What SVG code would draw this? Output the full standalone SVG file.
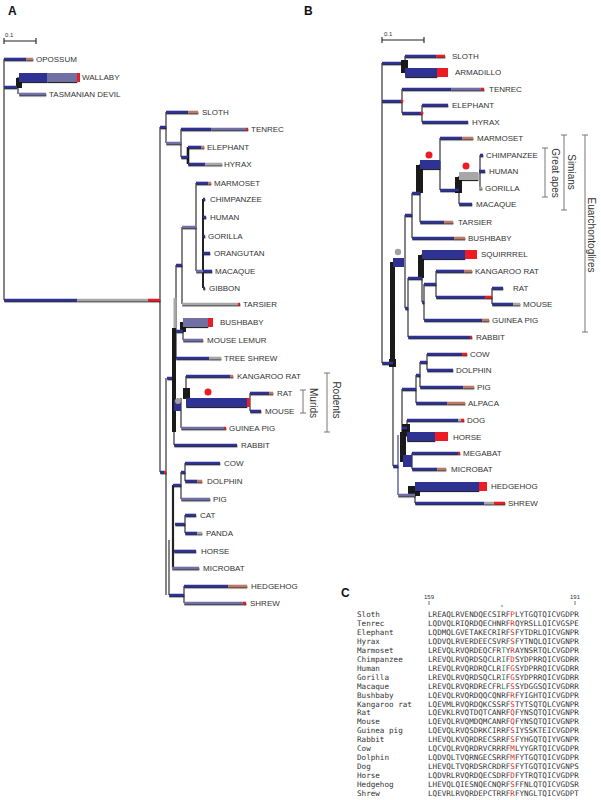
<svg xmlns="http://www.w3.org/2000/svg" width="601" height="800" viewBox="0 0 601 800">
<defs>
<filter id="sh" filterUnits="userSpaceOnUse" x="0" y="0" width="601" height="800"><feDropShadow dx="0.3" dy="1.1" stdDeviation="0.2" flood-color="#111" flood-opacity="0.9"/></filter>
<style>
.h{fill:none;stroke-width:2.6;filter:url(#sh)}
.b{stroke:#2e3192}.s{stroke:#6f70a4}.g{stroke:#a7a7a7}.w{stroke:#b97a6a}.r{stroke:#ec1c24}
.fb{fill:#2e3192}.fs{fill:#6f70a4}.fg{fill:#a7a7a7}.fr{fill:#ec1c24}.fk{fill:#1a1a1a}
.bar{filter:url(#sh)}
.v{fill:none;stroke:#222;stroke-width:1.1}
.vk{fill:none;stroke:#1a1a1a;stroke-width:2.6}
text{font-family:"Liberation Sans",Arial,sans-serif;fill:#333}
.l{font-size:8px}
.p{font-size:12px;font-weight:bold;fill:#111}
.sc{font-size:6px}
.br{fill:none;stroke:#777;stroke-width:1}
.bt{font-size:10px}
.m{font-family:"DejaVu Sans Mono","Liberation Mono",monospace;font-size:7.6px;fill:#333}
.rd{fill:#e8232a}.gn{fill:#1d8a3e}
</style>
</defs>

<!-- Panel letters -->
<text class="p" x="8" y="15">A</text>
<text class="p" x="304" y="15">B</text>
<text class="p" x="341" y="597">C</text>

<!-- Scale bars -->
<g id="scaleA"><path class="v" d="M4 41H36M4 38V44M36 38V44"/><text class="sc" x="5" y="37">0.1</text></g>
<g id="scaleB"><path class="v" d="M382 40H424M382 37V43M424 37V43"/><text class="sc" x="384" y="36">0.1</text></g>

<!-- ===== Panel A connectors ===== -->
<g id="connectorsA">
<path class="v" d="M4 59V300M18 77V94M160 127V472M166 112V143M181 129V157M176 265V358M182 227V304M196 183V271M183 322V340M186 376V398M250 393V411M181 398V428M174 405V445M166 378V595M185 463V481M181 472V499M185 515V533M184 586V603M169 540V595"/>
<path class="vk" d="M188 147V164"/>
<path class="v" style="stroke-width:2" d="M203 199V288"/>
<path class="v" style="stroke-width:2.2" d="M173 485V568"/>
<rect class="fk" x="16" y="78" width="6" height="10"/>
<rect class="fg" x="173.5" y="298" width="3" height="30"/>
<rect class="fk" x="172" y="328" width="4" height="104"/>
<rect class="fk" x="180" y="322" width="6" height="10"/>
<rect class="fk" x="183" y="388" width="7" height="11"/>
<rect class="fb" x="174" y="400" width="7" height="11"/>
<circle cx="178" cy="401" r="3" fill="#a0a0a0"/>
<circle cx="208" cy="392" r="3.5" fill="#ec1c24"/>
<path class="h b" d="M4 87H17M4 300H77M160 127H166M181 157H188M176 265H182M176 331H183M167 378H172M160 472H164M181 472H185M173 485H181M175 524H185M169 595H184"/>
<path class="h s" d="M166 143H181M182 227H196"/>
<path class="h g" d="M77 300H148"/>
<path class="h r" d="M148 300H160M164 472H166"/>
</g>

<!-- ===== Panel A leaves ===== -->
<g id="a-opossum"><path class="h b" d="M4 59H26"/><path class="h w" d="M26 59H33"/><text class="l" x="36" y="62">OPOSSUM</text></g>
<g id="a-wallaby"><rect class="fb bar" x="19" y="73" width="28" height="9"/><rect class="fs bar" x="47" y="73" width="30" height="9"/><rect class="fr" x="77" y="73" width="3" height="9"/><text class="l" x="82" y="80">WALLABY</text></g>
<g id="a-tasmanian-devil"><path class="h s" d="M19 94H46"/><text class="l" x="49" y="97">TASMANIAN DEVIL</text></g>
<g id="a-sloth"><path class="h b" d="M166 112H188"/><path class="h w" d="M188 112H198"/><text class="l" x="202" y="115">SLOTH</text></g>
<g id="a-tenrec"><path class="h b" d="M181 129H211"/><path class="h s" d="M211 129H246"/><path class="h r" d="M246 129H248"/><text class="l" x="251" y="132">TENREC</text></g>
<g id="a-elephant"><path class="h b" d="M188 147H201"/><path class="h w" d="M201 147H204"/><text class="l" x="207" y="150">ELEPHANT</text></g>
<g id="a-hyrax"><path class="h b" d="M188 164H205"/><path class="h g" d="M205 164H222"/><text class="l" x="224" y="167">HYRAX</text></g>
<g id="a-marmoset"><path class="h b" d="M196 183H208"/><path class="h w" d="M208 183H211"/><text class="l" x="214" y="186">MARMOSET</text></g>
<g id="a-chimpanzee"><path class="h b" d="M203 199H205"/><text class="l" x="210" y="202">CHIMPANZEE</text></g>
<g id="a-human"><path class="h b" d="M203 217H206"/><text class="l" x="210" y="220">HUMAN</text></g>
<g id="a-gorilla"><path class="h b" d="M203 236H205"/><text class="l" x="208" y="239">GORILLA</text></g>
<g id="a-orangutan"><path class="h b" d="M203 253H210"/><text class="l" x="214" y="256">ORANGUTAN</text></g>
<g id="a-macaque"><path class="h s" d="M196 271H203"/><path class="h b" d="M203 271H212"/><text class="l" x="215" y="274">MACAQUE</text></g>
<g id="a-gibbon"><path class="h b" d="M203 288H205"/><text class="l" x="209" y="291">GIBBON</text></g>
<g id="a-tarsier"><path class="h g" d="M182 304H238"/><path class="h r" d="M238 304H240"/><text class="l" x="243" y="307">TARSIER</text></g>
<g id="a-bushbaby"><rect class="fs bar" x="183" y="318" width="25" height="9"/><rect class="fr" x="208" y="318" width="5" height="9"/><text class="l" x="220" y="325">BUSHBABY</text></g>
<g id="a-mouse-lemur"><path class="h s" d="M183 340H203"/><text class="l" x="207" y="343">MOUSE LEMUR</text></g>
<g id="a-tree-shrew"><path class="h b" d="M176 358H209"/><path class="h g" d="M209 358H221"/><text class="l" x="224" y="361">TREE SHREW</text></g>
<g id="a-kangaroo-rat"><path class="h b" d="M186 376H230"/><path class="h w" d="M230 376H233"/><text class="l" x="237" y="379">KANGAROO RAT</text></g>
<g id="a-murids"><rect class="fb bar" x="186" y="398" width="61" height="9"/><rect class="fr" x="247" y="398" width="3" height="9"/></g>
<g id="a-rat"><path class="h b" d="M250 393H269"/><path class="h w" d="M269 393H273"/><text class="l" x="277" y="396">RAT</text></g>
<g id="a-mouse"><path class="h b" d="M250 411H261"/><text class="l" x="265" y="414">MOUSE</text></g>
<g id="a-guinea-pig"><path class="h s" d="M181 428H224"/><path class="h r" d="M224 428H226"/><text class="l" x="229" y="431">GUINEA PIG</text></g>
<g id="a-rabbit"><path class="h b" d="M174 445H237"/><text class="l" x="241" y="448">RABBIT</text></g>
<g id="a-cow"><path class="h b" d="M185 463H220"/><text class="l" x="224" y="466">COW</text></g>
<g id="a-dolphin"><path class="h b" d="M185 481H197"/><path class="h w" d="M197 481H202"/><text class="l" x="207" y="484">DOLPHIN</text></g>
<g id="a-pig"><path class="h s" d="M181 499H210"/><text class="l" x="213" y="502">PIG</text></g>
<g id="a-cat"><path class="h b" d="M185 515H196"/><text class="l" x="200" y="518">CAT</text></g>
<g id="a-panda"><path class="h b" d="M185 533H197"/><path class="h g" d="M197 533H202"/><text class="l" x="206" y="536">PANDA</text></g>
<g id="a-horse"><path class="h b" d="M174 551H196"/><text class="l" x="201" y="554">HORSE</text></g>
<g id="a-microbat"><path class="h s" d="M172 568H199"/><text class="l" x="203" y="571">MICROBAT</text></g>
<g id="a-hedgehog"><path class="h b" d="M184 586H228"/><path class="h w" d="M228 586H247"/><text class="l" x="251" y="589">HEDGEHOG</text></g>
<g id="a-shrew"><path class="h s" d="M184 603H243"/><path class="h r" d="M243 603H246"/><text class="l" x="250" y="606">SHREW</text></g>

<g id="a-brackets">
<path class="br" d="M303 390V413M300 390H306M300 413H306M327 373V432M324 373H330M324 432H330"/>
<text class="bt" transform="translate(310 403) rotate(90)" text-anchor="middle">Murids</text>
<text class="bt" transform="translate(333 400) rotate(90)" text-anchor="middle">Rodents</text>
</g>

<!-- ===== Panel B connectors ===== -->
<g id="connectorsB">
<path class="v" d="M382 63V363M405 56V72M402 89V113M422 105V122M393 262V466M405 215V308M412 193V238M420 164V222M440 138V190M459 176V204M480 155V188M408 278V337M422 254V302M424 284V320M436 271V297M492 288V304M402 389V462M416 375V403M420 362V387M427 354V370M407 420V437M412 453V469M415 486V503"/>
<path class="v" style="stroke:#6f70a4;stroke-width:1.6" d="M398 435V495"/>
<rect class="fk" x="401" y="60" width="7" height="13"/>
<rect class="fk" x="389" y="359" width="7" height="8"/>
<rect class="fk" x="390" y="262" width="5" height="101"/>
<rect class="fb" x="393" y="258" width="11" height="9"/>
<circle cx="398" cy="252" r="3.2" fill="#a0a0a0"/>
<rect class="fk" x="416" y="165" width="7" height="28"/>
<rect class="fb bar" x="420" y="160" width="20" height="9"/>
<circle cx="429" cy="155" r="3.5" fill="#ec1c24"/>
<rect class="fk" x="455" y="177" width="7" height="16"/>
<rect class="fg bar" x="459" y="172" width="19" height="8"/>
<circle cx="466" cy="166" r="3.5" fill="#ec1c24"/>
<rect class="fk" x="418" y="255" width="6" height="23"/>
<rect class="fk" x="400" y="432" width="6" height="30"/>
<rect class="fk" x="402" y="424" width="8" height="12"/>
<rect class="fb" x="403" y="455" width="9" height="12"/>
<rect class="fk" x="408" y="486" width="12" height="10"/>
<path class="h b" d="M382 63H401M382 101H402M402 113H422M382 363H393M405 215H412M412 193H420M440 190H459M405 308H408M408 278H422M422 302H424M424 284H436M436 297H485M393 466H398M402 389H416M416 375H420M420 362H427M402 428H407"/>
<path class="h s" d="M398 495H415"/>
<path class="h r" d="M485 297H492"/>
<circle cx="402" cy="101" r="1.5" fill="#ec1c24"/>
<circle cx="422" cy="113" r="1.5" fill="#ec1c24"/>
</g>

<!-- ===== Panel B leaves ===== -->
<g id="b-sloth"><path class="h b" d="M405 56H436"/><path class="h r" d="M436 56H445"/><text class="l" x="452" y="59">SLOTH</text></g>
<g id="b-armadillo"><rect class="fb bar" x="405" y="68" width="32" height="9"/><rect class="fr" x="437" y="68" width="11" height="9"/><text class="l" x="455" y="75">ARMADILLO</text></g>
<g id="b-tenrec"><path class="h b" d="M402 89H451"/><path class="h s" d="M451 89H481"/><path class="h r" d="M481 89H484"/><text class="l" x="489" y="92">TENREC</text></g>
<g id="b-elephant"><path class="h b" d="M422 105H448"/><text class="l" x="452" y="108">ELEPHANT</text></g>
<g id="b-hyrax"><path class="h b" d="M422 122H468"/><text class="l" x="472" y="125">HYRAX</text></g>
<g id="b-marmoset"><path class="h b" d="M440 138H462"/><path class="h w" d="M462 138H473"/><text class="l" x="477" y="141">MARMOSET</text></g>
<g id="b-chimpanzee"><path class="h b" d="M480 155H483"/><text class="l" x="486" y="158">CHIMPANZEE</text></g>
<g id="b-human"><path class="h b" d="M479 171H485"/><text class="l" x="489" y="174">HUMAN</text></g>
<g id="b-gorilla"><path class="h g" d="M479 188H482"/><text class="l" x="485" y="191">GORILLA</text></g>
<g id="b-macaque"><path class="h b" d="M459 204H472"/><text class="l" x="476" y="207">MACAQUE</text></g>
<g id="b-tarsier"><path class="h b" d="M420 222H444"/><path class="h w" d="M444 222H453"/><text class="l" x="458" y="225">TARSIER</text></g>
<g id="b-bushbaby"><path class="h b" d="M412 238H454"/><path class="h w" d="M454 238H465"/><text class="l" x="468" y="241">BUSHBABY</text></g>
<g id="b-squirrel"><rect class="fb bar" x="422" y="250" width="43" height="9"/><rect class="fr" x="465" y="250" width="12" height="9"/><text class="l" x="481" y="257">SQUIRRREL</text></g>
<g id="b-kangaroo-rat"><path class="h b" d="M436 271H464"/><path class="h w" d="M464 271H472"/><text class="l" x="475" y="274">KANGAROO RAT</text></g>
<g id="b-rat"><path class="h b" d="M492 288H503"/><text class="l" x="513" y="291">RAT</text></g>
<g id="b-mouse"><path class="h b" d="M492 304H513"/><path class="h g" d="M513 304H520"/><text class="l" x="523" y="307">MOUSE</text></g>
<g id="b-guinea-pig"><path class="h b" d="M424 320H482"/><path class="h w" d="M482 320H489"/><text class="l" x="492" y="323">GUINEA PIG</text></g>
<g id="b-rabbit"><path class="h b" d="M408 337H470"/><path class="h r" d="M470 337H472"/><text class="l" x="476" y="340">RABBIT</text></g>
<g id="b-cow"><path class="h b" d="M427 354H462"/><path class="h r" d="M462 354H467"/><text class="l" x="470" y="357">COW</text></g>
<g id="b-dolphin"><path class="h b" d="M427 370H453"/><text class="l" x="456" y="373">DOLPHIN</text></g>
<g id="b-pig"><path class="h b" d="M420 387H463"/><path class="h w" d="M463 387H474"/><text class="l" x="477" y="390">PIG</text></g>
<g id="b-alpaca"><path class="h b" d="M416 403H447"/><path class="h w" d="M447 403H465"/><text class="l" x="468" y="406">ALPACA</text></g>
<g id="b-dog"><path class="h b" d="M407 420H458"/><path class="h g" d="M458 420H461"/><path class="h r" d="M461 420H464"/><text class="l" x="467" y="423">DOG</text></g>
<g id="b-horse"><rect class="fb bar" x="407" y="432" width="28" height="9"/><rect class="fr" x="435" y="432" width="13" height="9"/><text class="l" x="453" y="440">HORSE</text></g>
<g id="b-megabat"><path class="h b" d="M412 453H458"/><path class="h r" d="M458 453H460"/><text class="l" x="463" y="456">MEGABAT</text></g>
<g id="b-microbat"><path class="h b" d="M412 469H437"/><path class="h w" d="M437 469H446"/><text class="l" x="451" y="472">MICROBAT</text></g>
<g id="b-hedgehog"><rect class="fb bar" x="415" y="482" width="64" height="9"/><rect class="fr" x="479" y="482" width="8" height="9"/><text class="l" x="491" y="489">HEDGEHOG</text></g>
<g id="b-shrew"><path class="h b" d="M415 503H484"/><path class="h g" d="M484 503H494"/><path class="h r" d="M494 503H505"/><text class="l" x="508" y="506">SHREW</text></g>

<g id="b-brackets">
<path class="br" d="M545 148V197M542 148H548M542 197H548M564 135V210M561 135H567M561 210H567M585 135V332M582 135H588M582 332H588"/>
<text class="bt" transform="translate(552 173) rotate(90)" text-anchor="middle">Great apes</text>
<text class="bt" transform="translate(568 172) rotate(90)" text-anchor="middle">Simians</text>
<text class="bt" transform="translate(588 235) rotate(90)" text-anchor="middle">Euarchontoglires</text>
</g>

<!-- ===== Panel C ===== -->
<g id="c-alignment">
<text class="sc" x="429" y="599" text-anchor="middle">159</text>
<text class="sc" x="575" y="599" text-anchor="middle">191</text>
<path class="br" d="M429 601V605M575 601V605"/>
<text x="502" y="609" text-anchor="middle" style="font-size:6px;fill:#1d8a3e">*</text>
<text class="m" x="357" y="617">Sloth</text><text class="m" x="428" y="617">LREAQLRVENDQECSIRF<tspan class="rd">P</tspan>LYTGQTQICVGDPR</text>
<text class="m" x="357" y="625.95">Tenrec</text><text class="m" x="428" y="625.95">LQDVQLRIQRDQECHNRF<tspan class="rd">R</tspan>QYRSLLQICVGSPE</text>
<text class="m" x="357" y="634.9">Elephant</text><text class="m" x="428" y="634.9">LQDMQLGVETAKECRIRF<tspan class="rd">S</tspan>FYTDRLQICVGNPR</text>
<text class="m" x="357" y="643.85">Hyrax</text><text class="m" x="428" y="643.85">LQDVQLRVERDEECSVRF<tspan class="rd">S</tspan>FYTNQLQICVGNPR</text>
<text class="m" x="357" y="652.8">Marmoset</text><text class="m" x="428" y="652.8">LREVQLRVQRDEQCFR<tspan class="gn">T</tspan>Y<tspan class="rd">R</tspan>AYNSRTQLCVGDPR</text>
<text class="m" x="357" y="661.75">Chimpanzee</text><text class="m" x="428" y="661.75">LREVQLRVQRDSQCLR<tspan class="gn">I</tspan>F<tspan class="rd">D</tspan>SYDPRRQICVGDRR</text>
<text class="m" x="357" y="670.7">Human</text><text class="m" x="428" y="670.7">LREVQLRVQRDRQCLR<tspan class="gn">I</tspan>F<tspan class="rd">G</tspan>SYDPRRQICVGDRR</text>
<text class="m" x="357" y="679.65">Gorilla</text><text class="m" x="428" y="679.65">LREVQLRVQRDSQCLR<tspan class="gn">I</tspan>F<tspan class="rd">G</tspan>SYDPRRQICVGDRR</text>
<text class="m" x="357" y="688.6">Macaque</text><text class="m" x="428" y="688.6">LREVQLRVQRDRECFR<tspan class="gn">L</tspan>F<tspan class="rd">S</tspan>SYDGGSQICVGDRR</text>
<text class="m" x="357" y="697.55">Bushbaby</text><text class="m" x="428" y="697.55">LQEVQLRVQRDQQCQNRF<tspan class="rd">R</tspan>FYIGHTQICVGDPR</text>
<text class="m" x="357" y="706.5">Kangaroo rat</text><text class="m" x="428" y="706.5">LQEVMLRVQRDQKCSSRF<tspan class="rd">S</tspan>TYTSQTQLCVGNPR</text>
<text class="m" x="357" y="715.45">Rat</text><text class="m" x="428" y="715.45">LQEVKLRVQTDQTCANRF<tspan class="rd">Q</tspan>FYNSQTQICVGNPR</text>
<text class="m" x="357" y="724.4">Mouse</text><text class="m" x="428" y="724.4">LQEVQLRVQMDQMCANRF<tspan class="rd">Q</tspan>FYNSQTQICVGNPR</text>
<text class="m" x="357" y="733.35">Guinea pig</text><text class="m" x="428" y="733.35">LQEVQLRVQSDRKCIRRF<tspan class="rd">S</tspan>IYSSKTEICVGDPR</text>
<text class="m" x="357" y="742.3">Rabbit</text><text class="m" x="428" y="742.3">LHEVQLKVQRDRECSRRF<tspan class="rd">S</tspan>FYHGQTQIYVGNPR</text>
<text class="m" x="357" y="751.25">Cow</text><text class="m" x="428" y="751.25">LQCVQLRVQRDRVCRRRF<tspan class="rd">M</tspan>LYYGRTQICVGDPR</text>
<text class="m" x="357" y="760.2">Dolphin</text><text class="m" x="428" y="760.2">LQDVQLTVQRNGECSRRF<tspan class="rd">M</tspan>FYTGQTQICVGDPR</text>
<text class="m" x="357" y="769.15">Dog</text><text class="m" x="428" y="769.15">LHEVQLTVQRDSRCRDRF<tspan class="rd">S</tspan>FYTGQTQICVGNPS</text>
<text class="m" x="357" y="778.1">Horse</text><text class="m" x="428" y="778.1">LQDVRLRVQRDQECSDRF<tspan class="rd">D</tspan>FYTRQTQICVGDPR</text>
<text class="m" x="357" y="787.05">Hedgehog</text><text class="m" x="428" y="787.05">LHEVQLQIESNQECNQRF<tspan class="rd">S</tspan>FFNLQTQICVGDSR</text>
<text class="m" x="357" y="796">Shrew</text><text class="m" x="428" y="796">LQEVRLRVQRDEPCTRRF<tspan class="rd">R</tspan>FYNGLTQICVGDPT</text>
</g>
</svg>
